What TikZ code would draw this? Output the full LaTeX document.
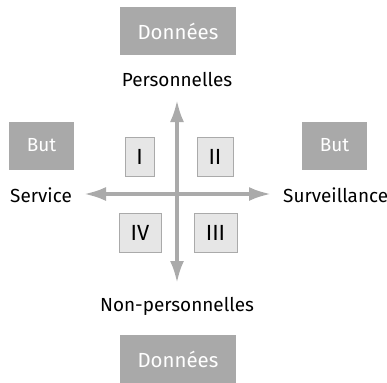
\documentclass[tikz,border=0pt]{standalone}
\usepackage{fontspec}
\setmainfont{Fira Sans}
\usetikzlibrary{arrows.meta}
\definecolor{boxgray}{HTML}{A9A9A9}
\definecolor{quadfill}{HTML}{E6E6E6}
\definecolor{axisgray}{HTML}{AAAAAA}
\begin{document}
\begin{tikzpicture}[x=1bp,y=-1bp,
  tagbox/.style={fill=boxgray, text=white, inner sep=0pt, minimum height=48bp},
  quad/.style={fill=quadfill, draw=axisgray, line width=1pt, font=\fontsize{22}{26}\selectfont, inner sep=0pt, minimum height=39bp},
  lbl/.style={font=\fontsize{19}{22}\selectfont, inner sep=0pt},
  axis/.style={draw=axisgray, line width=3.5bp, -{Latex[length=22bp,width=14bp]}}]
\useasboundingbox (0,0) rectangle (387,383);
\node[tagbox, minimum width=116bp, font=\fontsize{20.5}{24}\selectfont] (dtop) at (178,31) {Données};
\node[tagbox, minimum width=116bp, font=\fontsize{20.5}{24}\selectfont] (dbot) at (178,359) {Données};
\node[tagbox, minimum width=65bp, font=\fontsize{19}{22}\selectfont] (bleft) at (41.5,145.5) {But};
\node[tagbox, minimum width=65bp, font=\fontsize{19}{22}\selectfont] (bright) at (334.5,145.5) {But};
\node[lbl] (pers) at (177,80) {Personnelles};
\node[lbl] (npers) at (177,306) {Non-personnelles};
\node[lbl, anchor=east] (serv) at (72,195) {Service};
\node[lbl, anchor=west] (surv) at (283,195) {Surveillance};
\coordinate (c) at (177,194);
\coordinate (top) at (177,100);
\coordinate (bot) at (177,283);
\coordinate (lft) at (84,194);
\coordinate (rgt) at (271,194);
\draw[axis] (c) -- (top);
\draw[axis] (c) -- (bot);
\draw[axis] (c) -- (lft);
\draw[axis] (c) -- (rgt);
\node[quad, minimum width=29bp] (q1) at (139.5,156.5) {I};
\node[quad, minimum width=36bp] (q2) at (215,156.5) {II};
\node[quad, minimum width=42bp] (q4) at (140,232.5) {IV};
\node[quad, minimum width=43bp] (q3) at (215.5,232.5) {III};
\end{tikzpicture}
\end{document}
